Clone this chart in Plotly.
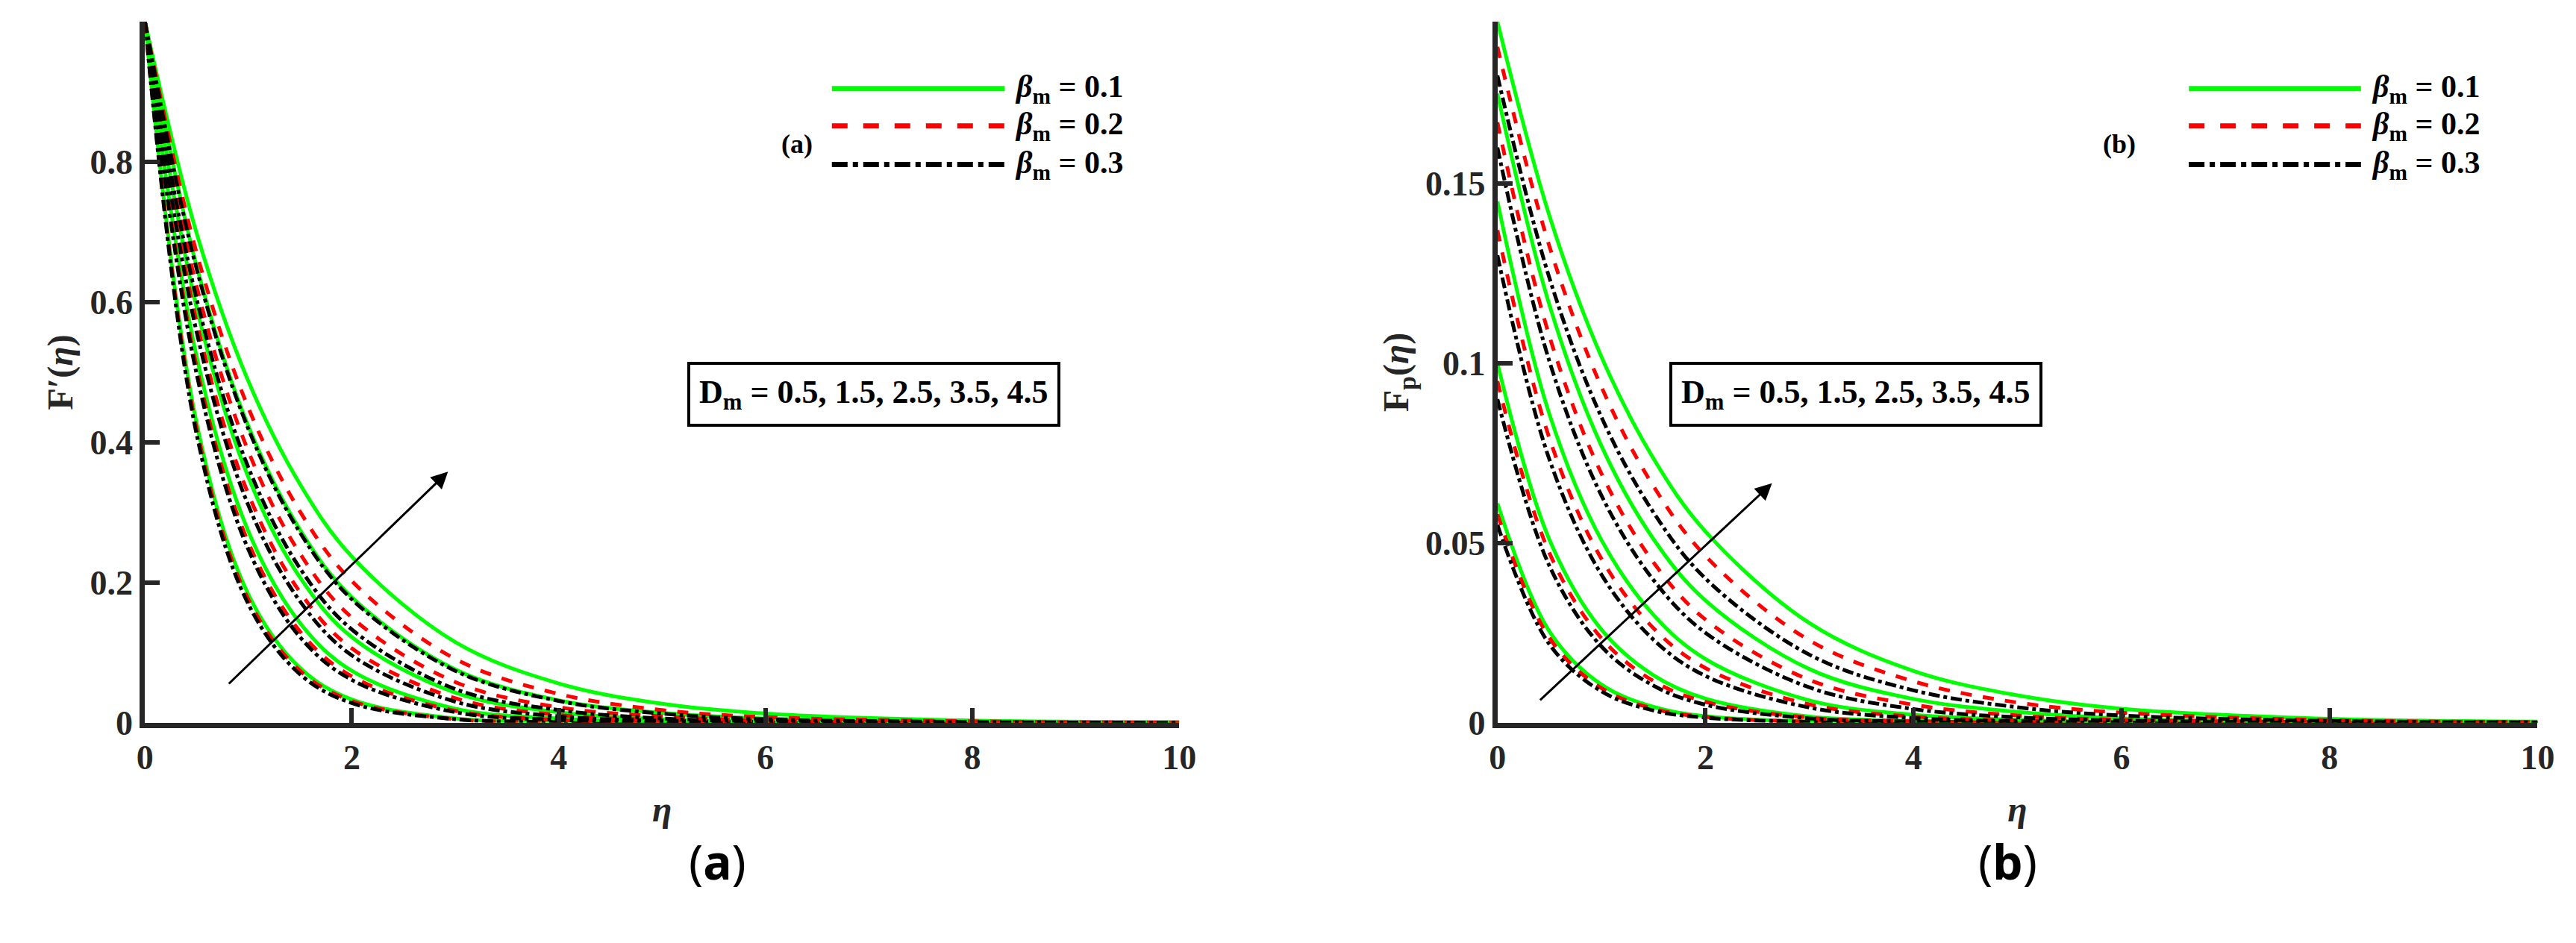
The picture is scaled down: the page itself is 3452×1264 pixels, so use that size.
import plotly.graph_objects as go

eta = [0, 0.5, 1, 1.5, 2, 3, 4, 5, 6, 8, 10]
Dm_values = [0.5, 1.5, 2.5, 3.5, 4.5]
beta_labels = ["0.1", "0.2", "0.3"]

# Panel (a): F'(eta), rows per Dm, each [beta=0.1, 0.2, 0.3]
Fa = {
    0.5: [[1, .427, .183, .078, .033, .006, .001, 0, 0, 0, 0],
          [1, .419, .176, .074, .031, .005, .001, 0, 0, 0, 0],
          [1, .411, .169, .069, .028, .005, .001, 0, 0, 0, 0]],
    1.5: [[1, .522, .273, .142, .074, .020, .006, .0015, 0, 0, 0],
          [1, .507, .257, .130, .066, .017, .004, .001, 0, 0, 0],
          [1, .497, .247, .122, .061, .015, .004, .001, 0, 0, 0]],
    2.5: [[1, .592, .350, .207, .122, .043, .015, .005, .002, 0, 0],
          [1, .571, .326, .186, .106, .035, .011, .004, .001, 0, 0],
          [1, .557, .310, .173, .096, .030, .009, .003, .001, 0, 0]],
    3.5: [[1, .651, .423, .275, .179, .076, .032, .014, .006, .001, 0],
          [1, .622, .387, .241, .150, .058, .022, .009, .003, 0, 0],
          [1, .604, .364, .220, .133, .048, .018, .006, .002, 0, 0]],
    4.5: [[1, .698, .487, .340, .237, .115, .056, .027, .013, .003, .001],
          [1, .670, .449, .301, .202, .091, .041, .018, .008, .002, 0],
          [1, .647, .419, .271, .176, .074, .031, .013, .005, .001, 0]],
}
# Panel (b): Fp(eta)
Fb = {
    0.5: [[.061, .0254, .0106, .0044, .0018, .0003, .0001, 0, 0, 0, 0],
          [.058, .0236, .0096, .0039, .0016, .0003, 0, 0, 0, 0, 0],
          [.055, .0218, .0087, .0034, .0014, .0002, 0, 0, 0, 0, 0]],
    1.5: [[.100, .0509, .0259, .0132, .0067, .0017, .0005, .0001, 0, 0, 0],
          [.095, .0472, .0235, .0116, .0058, .0014, .0004, .0001, 0, 0, 0],
          [.090, .0436, .0212, .0103, .0050, .0012, .0003, 0, 0, 0, 0]],
    2.5: [[.145, .0858, .0508, .0300, .0177, .0062, .0022, .0008, .0003, 0, 0],
          [.137, .0791, .0456, .0263, .0152, .0051, .0017, .0006, .0002, 0, 0],
          [.130, .0732, .0412, .0231, .0130, .0042, .0013, .0004, .0001, 0, 0]],
    3.5: [[.175, .1162, .0770, .0511, .0340, .0149, .0066, .0030, .0012, .0002, 0],
          [.167, .1075, .0693, .0446, .0287, .0119, .0050, .0020, .0008, .0002, 0],
          [.160, .1005, .0632, .0397, .0250, .0098, .0038, .0015, .0006, .0001, 0]],
    4.5: [[.195, .1410, .1018, .0735, .0532, .0277, .0144, .0076, .0039, .0011, .0003],
          [.188, .1325, .0934, .0658, .0464, .0229, .0115, .0056, .0028, .0007, .0002],
          [.180, .1237, .0850, .0585, .0401, .0189, .0090, .0043, .0020, .0005, .0001]],
}
x_ticks = [0, 2, 4, 6, 8, 10]
ya_ticks = [0, 0.2, 0.4, 0.6, 0.8, 1]
yb_ticks = [0, 0.05, 0.1, 0.15]

colors = ["#00ff00", "#ff0000", "#000000"]
dashes = ["solid", "dash", "dashdot"]
SERIF = "Liberation Serif"

fig = go.Figure()
for data, xa, ya in [(Fa, "x", "y"), (Fb, "x2", "y2")]:
    for dm in Dm_values:
        for j in range(3):
            fig.add_trace(go.Scatter(x=eta, y=data[dm][j], xaxis=xa, yaxis=ya, mode="lines",
                                     line=dict(color=colors[j], dash=dashes[j], width=5, shape="spline", smoothing=1.0),
                                     showlegend=False))

axcommon = dict(showline=True, linecolor="#262626", linewidth=7, ticks="inside", ticklen=20,
                tickwidth=6, tickcolor="#262626", showgrid=False, zeroline=False,
                tickfont=dict(family=SERIF, size=46, color="#262626"), mirror=False)
ttl = dict(family=SERIF, size=48, color="#262626")
fig.update_layout(
    width=3452, height=1264, margin=dict(l=0, r=0, t=0, b=0),
    plot_bgcolor="white", paper_bgcolor="white",
    xaxis=dict(domain=[0.051, 0.4566], range=[0, 10], tickvals=x_ticks, anchor="y",
               title=dict(text="<b><i>η</i></b>", font=ttl, standoff=30), **axcommon),
    yaxis=dict(domain=[0.224, 0.983], range=[0, 1], tickvals=ya_ticks,
               ticktext=["<b>0</b>", "<b>0.2</b>", "<b>0.4</b>", "<b>0.6</b>", "<b>0.8</b>", "<b>1</b>"],
               title=dict(text="<b>F′(<i>η</i>)</b>", font=ttl, standoff=10), anchor="x", **axcommon),
    xaxis2=dict(domain=[0.5814, 0.9893], range=[0, 10], tickvals=x_ticks, anchor="y2",
                title=dict(text="<b><i>η</i></b>", font=ttl, standoff=30), **axcommon),
    yaxis2=dict(domain=[0.224, 0.983], range=[0, 0.195], tickvals=yb_ticks,
                ticktext=["<b>0</b>", "<b>0.05</b>", "<b>0.1</b>", "<b>0.15</b>"],
                title=dict(text="<b>F<sub>p</sub>(<i>η</i>)</b>", font=ttl, standoff=10), anchor="x2", **axcommon),
)
fig.update_xaxes(ticktext=["<b>%d</b>" % v for v in x_ticks])

# legends drawn manually
ys = [1 - 113 / 1264, 1 - 164 / 1264, 1 - 217 / 1264]
for x0, x1, lab in [(1106, 1340, "(a)"), (2943, 3176, "(b)")]:
    for j in range(3):
        fig.add_shape(type="line", xref="paper", yref="paper", x0=x0 / 3452, x1=x1 / 3452,
                      y0=ys[j], y1=ys[j], line=dict(color=colors[j], dash=dashes[j], width=7))
        fig.add_annotation(xref="paper", yref="paper", x=(x1 + 12) / 3452, y=ys[j], xanchor="left",
                           yanchor="middle", showarrow=False,
                           text="<b><i>β</i><sub>m</sub> = %s</b>" % beta_labels[j],
                           font=dict(family=SERIF, size=42, color="black"))
    fig.add_annotation(xref="paper", yref="paper", x=(x0 - 70) / 3452, y=1 - 166 / 1264, showarrow=False,
                       text="<b>(%s)</b>" % lab[1], font=dict(family=SERIF, size=36, color="black"))

for cx, lab in [(910 / 3452, "a"), (2740 / 3452, "b")]:
    fig.add_annotation(xref="paper", yref="paper", x=cx, y=1 - 1217 / 1264, showarrow=False,
                       text="(<b>%s</b>)" % lab, font=dict(family="Noto Sans", size=64, color="black"))

for bx in [910, 2745]:
    fig.add_annotation(xref="paper", yref="paper", x=bx / 3452, y=1 - 531 / 1264, showarrow=False,
                       text="<b>D<sub>m</sub> = 0.5, 1.5, 2.5, 3.5, 4.5</b>",
                       font=dict(family=SERIF, size=44, color="black"),
                       bordercolor="black", borderwidth=4, borderpad=12, bgcolor="white")

fig.add_annotation(xref="x", yref="y", axref="x", ayref="y", x=2.93, y=0.358, ax=0.8, ay=0.054,
                   showarrow=True, arrowhead=2, arrowsize=1.5, arrowwidth=3, arrowcolor="black", text="")
fig.add_annotation(xref="x2", yref="y2", axref="x2", ayref="y2", x=2.64, y=0.0666, ax=0.40, ay=0.006,
                   showarrow=True, arrowhead=2, arrowsize=1.5, arrowwidth=3, arrowcolor="black", text="")

fig.write_html("out.html")
